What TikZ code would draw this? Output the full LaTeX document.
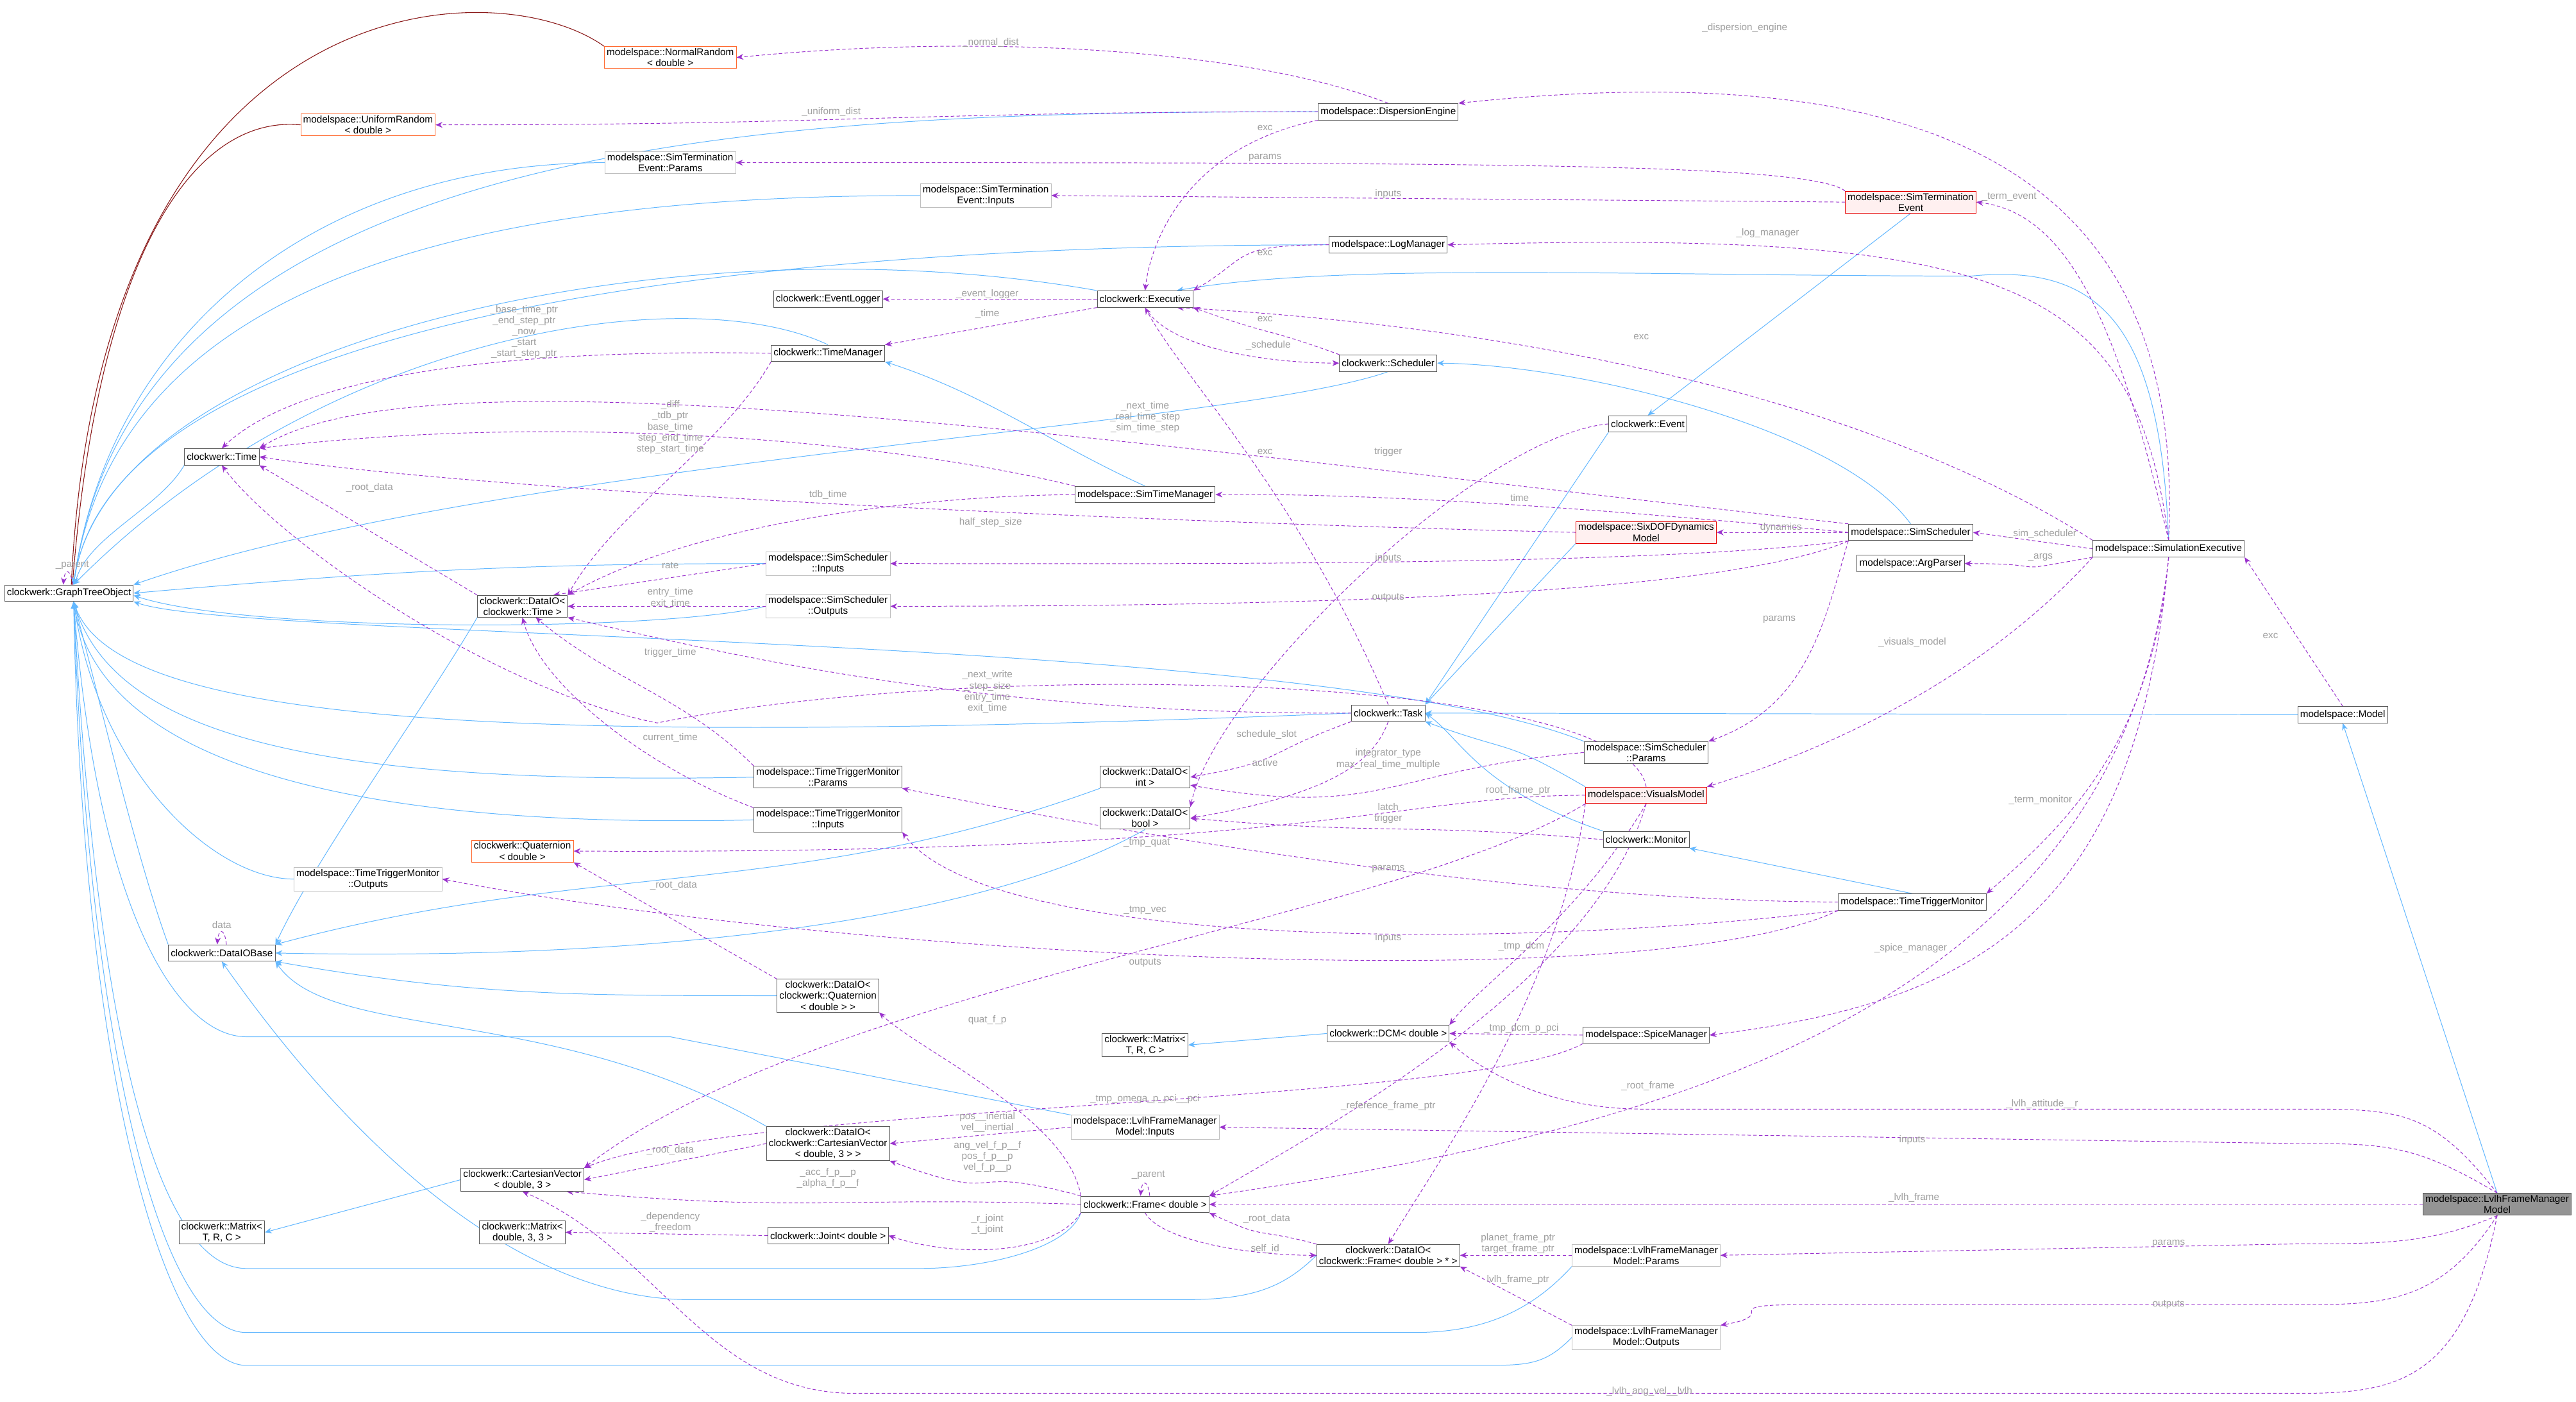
\documentclass[tikz,border=0pt]{standalone}
\usepackage{fontspec}
\setmainfont{Liberation Sans}
\usetikzlibrary{arrows.meta}
\definecolor{blu}{HTML}{63B8FF}
\definecolor{purp}{HTML}{9A32CD}
\definecolor{dred}{HTML}{8B1A1A}
\definecolor{lgray}{HTML}{A0A0A0}
\definecolor{orng}{HTML}{FF6A30}
\pgfdeclarelayer{bg}
\pgfdeclarelayer{paper}
\pgfsetlayers{paper,bg,main}
\newcommand{\nf}{\fontsize{8.5pt}{9.5pt}\selectfont}
\tikzset{
 box/.style={draw=black!65, fill=white, font=\nf, align=center, inner xsep=2pt, inner ysep=1.6pt, minimum height=0.5cm, line width=0.5pt},
 lbox/.style={box, draw=black!25},
 rbox/.style={box, draw=red!90!black, fill=red!6},
 obox/.style={box, draw=orng},
 mbox/.style={box, fill=black!42},
 inh/.style={draw=blu, line width=0.55pt, -{Stealth[length=6pt,width=5pt]}},
 tmpl/.style={draw=dred, line width=0.6pt},
 use/.style={draw=purp, line width=0.55pt, dash pattern=on 3pt off 2pt, -{Stealth[length=6pt,width=5pt]}},
 lab/.style={font=\nf, text=lgray, align=center, inner sep=0pt},
}
\begin{document}
\begin{tikzpicture}[x=0.05cm,y=0.05cm]
\begin{pgfonlayer}{paper}
\fill[white] (0,0) rectangle (1568,-853);
\end{pgfonlayer}
\useasboundingbox (0,0) rectangle (1568,-853);
% nodes
\node[box] (GTO) at (42,-361) {clockwerk::GraphTreeObject};
\node[obox] (NR) at (408,-35) {modelspace::NormalRandom\\< double >};
\node[obox] (UR) at (224,-76) {modelspace::UniformRandom\\< double >};
\node[lbox] (STP) at (408,-99) {modelspace::SimTermination\\Event::Params};
\node[lbox] (STI) at (600,-119) {modelspace::SimTermination\\Event::Inputs};
\node[box] (DE) at (845,-68) {modelspace::DispersionEngine};
\node[box] (LM) at (845,-149) {modelspace::LogManager};
\node[box] (EL) at (504,-182) {clockwerk::EventLogger};
\node[box] (EX) at (697,-182) {clockwerk::Executive};
\node[box] (TM) at (504,-215) {clockwerk::TimeManager};
\node[box] (SC) at (845,-221) {clockwerk::Scheduler};
\node[box] (TI) at (135,-278) {clockwerk::Time};
\node[box] (STM) at (697,-301) {modelspace::SimTimeManager};
\node[lbox] (SSI) at (504,-343) {modelspace::SimScheduler\\::Inputs};
\node[lbox] (SSO) at (504,-369) {modelspace::SimScheduler\\::Outputs};
\node[box] (DT) at (318,-369) {clockwerk::DataIO<\\clockwerk::Time >};
\node[box] (EV) at (1003,-258) {clockwerk::Event};
\node[rbox] (SIX) at (1002,-324) {modelspace::SixDOFDynamics\\Model};
\node[box] (SS) at (1163,-324) {modelspace::SimScheduler};
\node[box] (AP) at (1163,-343) {modelspace::ArgParser};
\node[box] (SE) at (1320,-334) {modelspace::SimulationExecutive};
\node[rbox] (SST) at (1163,-123) {modelspace::SimTermination\\Event};
\node[box] (TA) at (845,-434) {clockwerk::Task};
\node[box] (MO) at (1426,-435) {modelspace::Model};
\node[box] (SSP) at (1002,-458) {modelspace::SimScheduler\\::Params};
\node[rbox] (VM) at (1002,-484) {modelspace::VisualsModel};
\node[box] (MN) at (1002,-511) {clockwerk::Monitor};
\node[box] (TTP) at (504,-473) {modelspace::TimeTriggerMonitor\\::Params};
\node[box] (TTI) at (504,-499) {modelspace::TimeTriggerMonitor\\::Inputs};
\node[box] (DI) at (697,-473) {clockwerk::DataIO<\\int >};
\node[box] (DB) at (697,-498) {clockwerk::DataIO<\\bool >};
\node[obox] (QU) at (318,-518) {clockwerk::Quaternion\\< double >};
\node[lbox] (TTO) at (224,-535) {modelspace::TimeTriggerMonitor\\::Outputs};
\node[box] (DIB) at (135,-580) {clockwerk::DataIOBase};
\node[box] (TTM) at (1164,-549) {modelspace::TimeTriggerMonitor};
\node[box] (DQ) at (504,-606) {clockwerk::DataIO<\\clockwerk::Quaternion\\< double > >};
\node[box] (MXM) at (697,-636) {clockwerk::Matrix<\\T, R, C >};
\node[box] (DCM) at (845,-629) {clockwerk::DCM< double >};
\node[box] (SP) at (1002,-630) {modelspace::SpiceManager};
\node[lbox] (LI) at (697,-686) {modelspace::LvlhFrameManager\\Model::Inputs};
\node[box] (DCV) at (504,-696) {clockwerk::DataIO<\\clockwerk::CartesianVector\\< double, 3 > >};
\node[box] (CV) at (318,-718) {clockwerk::CartesianVector\\< double, 3 >};
\node[box] (FR) at (697,-733) {clockwerk::Frame< double >};
\node[box] (MXL) at (135,-750) {clockwerk::Matrix<\\T, R, C >};
\node[box] (M33) at (318,-750) {clockwerk::Matrix<\\double, 3, 3 >};
\node[box] (JT) at (504,-752) {clockwerk::Joint< double >};
\node[box] (DF) at (845,-764) {clockwerk::DataIO<\\clockwerk::Frame< double > * >};
\node[lbox] (LP) at (1002,-764) {modelspace::LvlhFrameManager\\Model::Params};
\node[lbox] (LO) at (1002,-814) {modelspace::LvlhFrameManager\\Model::Outputs};
\node[mbox] (LF) at (1520,-733) {modelspace::LvlhFrameManager\\Model};
% labels
\foreach \t/\x/\y in {
 {\_parent}/44/-344, data/135/-563, {\_normal\_dist}/603/-26, {\_uniform\_dist}/506/-68,
 exc/770/-78, params/770/-96, inputs/845/-118, exc/770/-154, {\_event\_logger}/601/-179,
 {\_time}/601/-191, exc/770/-194, {\_schedule}/772/-210,
 {\_base\_time\_ptr\\\_end\_step\_ptr\\\_now\\\_start\\\_start\_step\_ptr}/319/-202,
 {\_next\_time\\\_real\_time\_step\\\_sim\_time\_step}/697/-254,
 exc/770/-275, trigger/845/-275, tdb\_time/504/-301, half\_step\_size/603/-318, time/925/-303,
 inputs/845/-340, outputs/845/-364,
 {\_diff\\\_tdb\_ptr\\base\_time\\step\_end\_time\\step\_start\_time}/408/-260,
 {\_root\_data}/225/-297, rate/408/-344, {entry\_time\\exit\_time}/408/-364,
 trigger\_time/408/-397, current\_time/408/-449,
 {\_next\_write\\\_step\_size\\entry\_time\\exit\_time}/601/-421,
 schedule\_slot/771/-447, active/770/-464, {integrator\_type\\max\_real\_time\_multiple}/845/-462,
 root\_frame\_ptr/924/-481, {latch\\trigger}/845/-495, {\_tmp\_quat}/698/-513, params/845/-529,
 {\_tmp\_vec}/697/-554, inputs/845/-571, {\_tmp\_dcm}/926/-576, outputs/697/-586,
 {\_root\_data}/410/-539, quat\_f\_p/601/-621, {\_tmp\_dcm\_p\_pci}/926/-626,
 {\_tmp\_omega\_p\_pci\_\_pci}/697/-669, {\_reference\_frame\_ptr}/845/-673,
 {pos\_\_inertial\\vel\_\_inertial}/601/-683, {ang\_vel\_f\_p\_\_f\\pos\_f\_p\_\_p\\vel\_f\_p\_\_p}/601/-704,
 {\_root\_data}/408/-700, {\_acc\_f\_p\_\_p\\\_alpha\_f\_p\_\_f}/504/-717, {\_parent}/699/-715,
 {\_r\_joint\\\_t\_joint}/601/-745, {\_dependency\\\_freedom}/408/-744, {\_root\_data}/771/-742,
 self\_id/770/-760, {planet\_frame\_ptr\\target\_frame\_ptr}/924/-757, lvlh\_frame\_ptr/924/-779,
 {\_term\_event}/1223/-120, {\_log\_manager}/1076/-142, exc/999/-205, dynamics/1084/-321,
 {\_sim\_scheduler}/1243/-325, {\_args}/1242/-339, params/1083/-377, {\_visuals\_model}/1164/-391,
 exc/1382/-387, {\_term\_monitor}/1242/-487, {\_spice\_manager}/1163/-577, {\_root\_frame}/1003/-661,
 {\_lvlh\_attitude\_\_r}/1243/-672, inputs/1164/-694, {\_lvlh\_frame}/1165/-729, params/1320/-757,
 outputs/1320/-794, {\_lvlh\_ang\_vel\_\_lvlh}/1004/-847, {\_dispersion\_engine}/1062/-17}
 {\node[lab] at (\x,\y) {\t};}
\begin{pgfonlayer}{bg}
% template / inheritance
\draw[tmpl] (NR.north west) .. controls (300,20) and (60,10) .. ([xshift=2pt]GTO.north);
\draw[tmpl] (UR.west) .. controls (120,-70) and (60,-150) .. ([xshift=3pt]GTO.north);
\draw[inh] (DE.west) .. controls +(180:320) and +(82:280) .. ([xshift=4pt]GTO.north);
\draw[inh] (STP.west) .. controls +(180:180) and +(82:150) .. ([xshift=4pt]GTO.north);
\draw[inh] (STI.west) .. controls +(180:240) and +(82:200) .. ([xshift=4pt]GTO.north);
\draw[inh] (LM.west) .. controls +(180:330) and +(82:170) .. ([xshift=4pt]GTO.north);
\draw[inh] (EX.north west) .. controls +(170:260) and +(82:150) .. ([xshift=4pt]GTO.north);
\draw[inh] (TM.north) .. controls (420,-170) and (200,-200) .. ([xshift=4pt]GTO.north);
\draw[inh] (TI.south west) .. controls +(240:30) and +(75:30) .. ([xshift=5pt]GTO.north);
\draw[inh] (SC.south) .. controls (750,-260) and (300,-280) .. (GTO.north east);
\draw[inh] (SSI.west) .. controls +(180:150) and +(5:150) .. (GTO.east);
\draw[inh] (SSO.west) .. controls (400,-385) and (150,-385) .. ([yshift=-2pt]GTO.east);
\draw[inh] (SSP.north west) .. controls (800,-385) and (150,-390) .. (GTO.south east);
\draw[inh] (TA.west) .. controls (300,-455) and (70,-440) .. ([xshift=4pt]GTO.south);
\draw[inh] (TTP.west) .. controls (200,-478) and (70,-450) .. ([xshift=4pt]GTO.south);
\draw[inh] (TTI.west) .. controls (200,-505) and (60,-460) .. ([xshift=4pt]GTO.south);
\draw[inh] (TTO.west) .. controls (130,-535) and (60,-470) .. ([xshift=4pt]GTO.south);
\draw[inh] (DIB.north west) .. controls +(110:60) and +(-75:60) .. ([xshift=4pt]GTO.south);
\draw[inh] (LI.north west) -- (408,-631) -- (150,-631) .. controls (110,-631) and (60,-560) .. ([xshift=4pt]GTO.south);
\draw[inh] (FR.south west) .. controls (650,-760) and (600,-772) .. (560,-772) -- (150,-772) .. controls (100,-772) and (60,-650) .. ([xshift=4pt]GTO.south);
\draw[inh] (LP.south west) .. controls (930,-800) and (900,-811) .. (860,-811) -- (150,-811) .. controls (100,-811) and (55,-650) .. ([xshift=4pt]GTO.south);
\draw[inh] (LO.west) .. controls (940,-831) and (930,-831) .. (900,-831) -- (150,-831) .. controls (100,-831) and (50,-650) .. ([xshift=4pt]GTO.south);
\draw[inh] (DT.south west) .. controls +(240:60) and +(65:60) .. (DIB.north east);
\draw[inh] (DI.south west) .. controls +(200:200) and +(15:200) .. (DIB.north east);
\draw[inh] (DB.south) .. controls (600,-560) and (400,-585) .. (DIB.east);
\draw[inh] (DQ.west) .. controls +(180:120) and +(-10:120) .. (DIB.south east);
\draw[inh] (DCV.north west) .. controls +(150:150) and +(-55:60) .. (DIB.south east);
\draw[inh] (DF.west) .. controls (780,-785) and (760,-791) .. (720,-791) -- (420,-791) .. controls (330,-791) and (230,-720) .. (DIB.south);
\draw[inh] (CV.west) -- (MXL.east);
\draw[inh] (DCM.west) -- (MXM.east);
\draw[inh] (STM.north) .. controls (640,-270) and (600,-240) .. (TM.south east);
\draw[inh] (SE.north) .. controls (1315,-200) and (1280,-160) .. (1200,-168) .. controls +(180:200) and +(10:100) .. (EX.15);
\draw[inh] (SS.north) .. controls (1120,-260) and (960,-222) .. (SC.east);
\draw[inh] (SST.south) -- (EV.north);
\draw[inh] (EV.south west) -- (TA.north east);
\draw[inh] (SIX.south west) -- (TA.north east);
\draw[inh] (VM.north west) .. controls +(150:60) and +(-20:60) .. (TA.south east);
\draw[inh] (MN.north west) .. controls (900,-480) and (890,-450) .. (TA.east);
\draw[inh] (MO.west) -- (TA.east);
\draw[inh] (TTM.north) -- (MN.south east);
\draw[inh] (LF.north) -- (MO.south);
% self loops
\draw[use] ([xshift=3pt]GTO.north) .. controls +(-1,10) and +(1,10) .. ([xshift=-5pt]GTO.north);
\draw[use] ([xshift=4pt]DIB.north) .. controls +(-1,10) and +(1,10) .. ([xshift=-4pt]DIB.north);
\draw[use] ([xshift=4pt]FR.north) .. controls +(-1,10) and +(1,10) .. ([xshift=-4pt]FR.north);
% usage
\draw[use] (DE.north) .. controls (760,-30) and (600,-20) .. (NR.east);
\draw[use] (DE.west) .. controls +(180:250) and +(0:250) .. (UR.east);
\draw[use] (DE.south west) .. controls (720,-90) and (700,-150) .. (EX.north);
\draw[use] (SST.north west) .. controls (1100,-99) and (900,-99) .. (STP.east);
\draw[use] (SST.west) -- (STI.east);
\draw[use] (LM.west) .. controls +(180:60) and +(30:40) .. (EX.north east);
\draw[use] (EX.west) -- (EL.east);
\draw[use] (EX.south west) -- (TM.north east);
\draw[use] (EX.south) .. controls +(-60:30) and +(180:40) .. (SC.west);
\draw[use] (SC.north west) .. controls +(160:50) and +(-20:50) .. (EX.south east);
\draw[use] (TM.west) .. controls (300,-212) and (180,-230) .. (TI.north);
\draw[use] (TM.south west) .. controls +(240:60) and +(60:60) .. (DT.north east);
\draw[use] (SS.north west) .. controls (650,-265) and (260,-210) .. (TI.north east);
\draw[use] (STM.north west) .. controls (550,-270) and (350,-250) .. (TI.north east);
\draw[use] (SIX.west) .. controls (700,-318) and (300,-300) .. (TI.east);
\draw[use] (DT.north west) -- (TI.south east);
\draw[use] (VM.north) .. controls (990,-410) and (600,-400) .. (400,-440) .. controls (300,-420) and (170,-330) .. (TI.south);
\draw[use] (TA.west) .. controls (600,-435) and (450,-400) .. (DT.south east);
\draw[use] (STM.west) .. controls (550,-302) and (420,-320) .. (DT.north east);
\draw[use] (SSI.west) -- (DT.20);
\draw[use] (SSO.west) -- (DT.east);
\draw[use] (TTP.north west) .. controls +(135:60) and +(-40:60) .. (DT.-40);
\draw[use] (TTI.north west) .. controls (400,-470) and (330,-420) .. (DT.south);
\draw[use] (TA.north) .. controls (790,-300) and (720,-230) .. (EX.south);
\draw[use] (TA.south west) .. controls +(200:60) and +(10:60) .. (DI.east);
\draw[use] (TA.south) .. controls +(-110:30) and +(10:80) .. (DB.east);
\draw[use] (EV.west) .. controls (900,-265) and (740,-420) .. (DB.north east);
\draw[use] (SSP.west) .. controls +(185:120) and +(-10:120) .. (DI.-10);
\draw[use] (MN.west) .. controls +(175:120) and +(-5:120) .. (DB.east);
\draw[use] (VM.west) .. controls (850,-484) and (800,-520) .. (QU.east);
\draw[use] (VM.south west) .. controls (850,-560) and (500,-600) .. (CV.north east);
\draw[use] (VM.south) .. controls (960,-560) and (900,-600) .. (DCM.north east);
\draw[use] (VM.south) .. controls (970,-600) and (800,-690) .. (FR.north east);
\draw[use] (VM.south west) .. controls (950,-600) and (880,-700) .. (DF.north);
\draw[use] (TTM.west) .. controls (900,-548) and (650,-500) .. (TTP.south east);
\draw[use] (TTM.south west) .. controls (900,-580) and (600,-575) .. (TTI.south east);
\draw[use] (TTM.south west) .. controls (1000,-610) and (500,-580) .. (TTO.east);
\draw[use] (DQ.north west) -- (QU.south east);
\draw[use] (FR.north west) .. controls (650,-680) and (560,-640) .. (DQ.south east);
\draw[use] (SP.west) -- (DCM.east);
\draw[use] (SP.south west) .. controls (900,-672) and (450,-672) .. (CV.north east);
\draw[use] (LI.west) -- (DCV.east);
\draw[use] (FR.north west) .. controls +(165:80) and +(-20:80) .. (DCV.south east);
\draw[use] (DCV.west) -- (CV.east);
\draw[use] (FR.west) .. controls +(178:150) and +(-5:150) .. (CV.-15);
\draw[use] (FR.south west) .. controls (640,-765) and (580,-765) .. (JT.east);
\draw[use] (JT.west) -- (M33.east);
\draw[use] (DF.north west) .. controls +(165:40) and +(-25:40) .. (FR.south east);
\draw[use] (FR.south) .. controls +(-60:20) and +(180:40) .. (DF.west);
\draw[use] (LP.west) -- (DF.east);
\draw[use] (LO.north west) -- (DF.south east);
\draw[use] (SE.north) .. controls (1330,-120) and (1200,-30) .. (DE.north east);
\draw[use] (SE.north) .. controls (1290,-200) and (1260,-130) .. (SST.east);
\draw[use] (SE.north) .. controls (1300,-170) and (1220,-140) .. (LM.east);
\draw[use] (SE.north west) .. controls (1150,-250) and (950,-200) .. (EX.-15);
\draw[use] (SE.west) -- (SS.east);
\draw[use] (SE.south west) .. controls +(190:60) and +(0:60) .. (AP.east);
\draw[use] (SE.south west) .. controls (1200,-420) and (1100,-460) .. (VM.north east);
\draw[use] (SE.south) .. controls (1310,-450) and (1260,-500) .. (TTM.north east);
\draw[use] (SE.south) .. controls (1300,-560) and (1200,-610) .. (SP.east);
\draw[use] (SE.south) .. controls (1290,-620) and (1000,-690) .. (FR.north east);
\draw[use] (MO.north) -- (SE.south east);
\draw[use] (SS.west) -- (SIX.east);
\draw[use] (SS.west) .. controls (1000,-312) and (850,-300) .. (STM.east);
\draw[use] (SS.south west) .. controls (1000,-345) and (700,-343) .. (SSI.east);
\draw[use] (SS.south west) .. controls (1050,-362) and (800,-369) .. (SSO.east);
\draw[use] (SS.south west) .. controls (1110,-380) and (1100,-430) .. (SSP.north east);
\draw[use] (LF.north) .. controls (1480,-675) and (1460,-675) .. (1400,-675) -- (1000,-675) .. controls (940,-675) and (900,-650) .. (DCM.south east);
\draw[use] (LF.north) .. controls (1470,-696) and (1450,-696) .. (1400,-696) -- (LI.east);
\draw[use] (LF.west) -- (FR.east);
\draw[use] (LF.south) .. controls (1480,-757) and (1450,-757) .. (1400,-757) -- (LP.east);
\draw[use] (LF.south) .. controls (1485,-794) and (1450,-794) .. (1400,-794) -- (1100,-794) .. controls +(180:60) and +(10:40) .. (LO.north east);
\draw[use] (LF.south) .. controls (1500,-840) and (1460,-848) .. (1400,-848) -- (520,-848) .. controls (430,-848) and (400,-760) .. (CV.south);
\end{pgfonlayer}
\end{tikzpicture}
\end{document}
